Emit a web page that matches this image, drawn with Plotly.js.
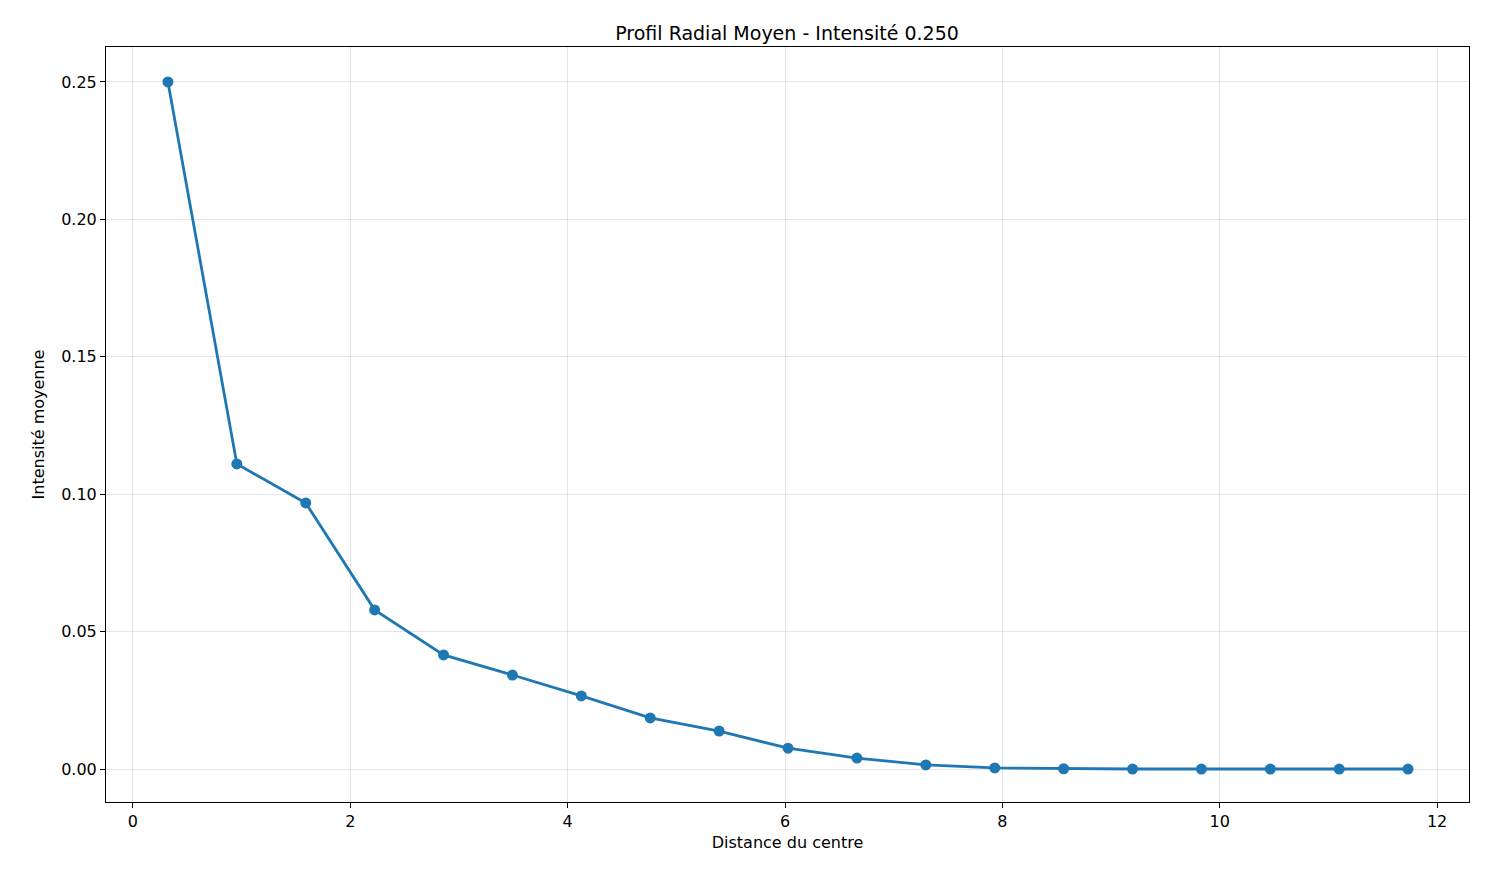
<!DOCTYPE html>
<html><head><meta charset="utf-8">
<script src="https://cdn.plot.ly/plotly-3.0.1.min.js"></script>
<style>html,body{margin:0;padding:0;background:#fff}</style>
</head><body><div id="chart" style="width:1485px;height:881px"></div>
<script>
const distances = [0.322,0.956,1.590,2.224,2.858,3.492,4.126,4.760,5.394,6.028,6.662,7.296,7.930,8.564,9.198,9.832,10.466,11.100,11.733];
const intensities = [0.250,0.111,0.0968,0.0579,0.0415,0.0342,0.0266,0.0186,0.0138,0.0076,0.0040,0.0015,0.0004,0.0001,0,0,0,0,0];
const xTicks = [0,2,4,6,8,10,12];
const yTicks = [0,0.05,0.10,0.15,0.20,0.25];
const yTickLabels = ["0.00","0.05","0.10","0.15","0.20","0.25"];
const ax = {showline:true, mirror:true, linecolor:'#000', linewidth:1, ticks:'outside', ticklen:5, tickcolor:'#000',
  gridcolor:'rgba(0,0,0,0.1)', zeroline:false, tickfont:{size:16,color:'#000'}};
Plotly.newPlot('chart',[{x:distances,y:intensities,mode:'lines+markers',
  line:{color:'#1f77b4',width:2.8},marker:{color:'#1f77b4',size:11}}],{
  width:1485,height:881,margin:{l:106,r:16,t:47,b:79},
  font:{family:'DejaVu Sans',color:'#000'},
  paper_bgcolor:'#fff',plot_bgcolor:'#fff',showlegend:false,
  title:{text:'Profil Radial Moyen - Intensité 0.250',font:{size:19},x:0.53,xanchor:'center',y:0.97},
  xaxis:Object.assign({},ax,{range:[-0.248,12.294],tickvals:xTicks,title:{text:'Distance du centre',font:{size:16},standoff:6}}),
  yaxis:Object.assign({},ax,{range:[-0.012,0.2627],tickvals:yTicks,ticktext:yTickLabels,title:{text:'Intensité moyenne',font:{size:16},standoff:12}})
},{displayModeBar:false});
</script></body></html>
